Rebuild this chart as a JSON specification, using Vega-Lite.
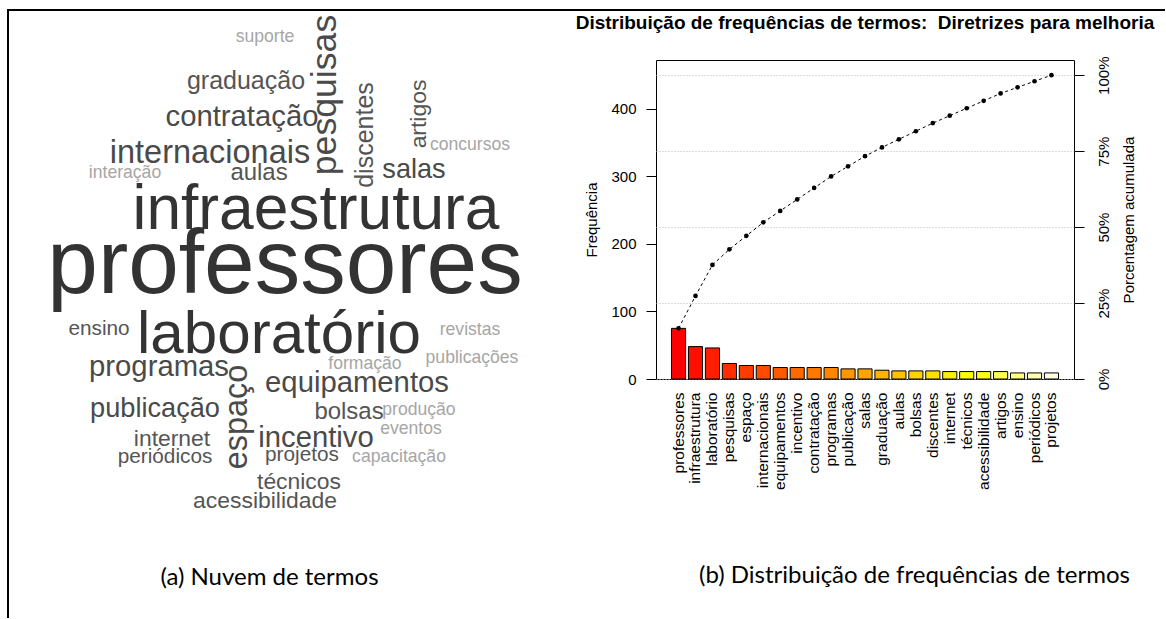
{
  "$schema": "https://vega.github.io/schema/vega-lite/v6.json",
  "padding": {"left": 6, "top": 8, "right": 0, "bottom": 0},
  "background": "white",
  "bounds": "flush",
  "spacing": 88,
  "config": {"view": {"stroke": null}, "font": "Liberation Sans"},
  "datasets": {
    "cloud": [
      {"word": "professores", "freq": 75, "cx": 284, "by": 292, "rot": 0},
      {"word": "infraestrutura", "freq": 48, "cx": 315, "by": 228, "rot": 0},
      {"word": "laboratório", "freq": 46, "cx": 278, "by": 352, "rot": 0},
      {"word": "pesquisas", "freq": 23, "cx": 335, "by": 94, "rot": 270},
      {"word": "espaço", "freq": 20, "cx": 246, "by": 416, "rot": 270},
      {"word": "internacionais", "freq": 20, "cx": 209, "by": 162, "rot": 0},
      {"word": "equipamentos", "freq": 17, "cx": 356, "by": 391, "rot": 0},
      {"word": "incentivo", "freq": 17, "cx": 315, "by": 446, "rot": 0},
      {"word": "contratação", "freq": 17, "cx": 241, "by": 125, "rot": 0},
      {"word": "programas", "freq": 17, "cx": 158, "by": 375, "rot": 0},
      {"word": "publicação", "freq": 15, "cx": 154, "by": 416, "rot": 0},
      {"word": "salas", "freq": 15, "cx": 413, "by": 177, "rot": 0},
      {"word": "graduação", "freq": 13, "cx": 245, "by": 88, "rot": 0},
      {"word": "aulas", "freq": 12, "cx": 258, "by": 179, "rot": 0},
      {"word": "bolsas", "freq": 12, "cx": 348, "by": 418, "rot": 0},
      {"word": "discentes", "freq": 13, "cx": 372, "by": 134, "rot": 270},
      {"word": "internet", "freq": 11, "cx": 171, "by": 445, "rot": 0},
      {"word": "técnicos", "freq": 11, "cx": 298, "by": 488, "rot": 0},
      {"word": "acessibilidade", "freq": 11, "cx": 264, "by": 507, "rot": 0},
      {"word": "artigos", "freq": 11, "cx": 425, "by": 113, "rot": 270},
      {"word": "ensino", "freq": 9, "cx": 98, "by": 334, "rot": 0},
      {"word": "periódicos", "freq": 9, "cx": 164, "by": 462, "rot": 0},
      {"word": "projetos", "freq": 9, "cx": 301, "by": 460, "rot": 0},
      {"word": "suporte", "freq": 6, "cx": 264, "by": 41, "rot": 0},
      {"word": "concursos", "freq": 6, "cx": 469, "by": 149, "rot": 0},
      {"word": "interação", "freq": 6, "cx": 124, "by": 177, "rot": 0},
      {"word": "revistas", "freq": 6, "cx": 469, "by": 334, "rot": 0},
      {"word": "formação", "freq": 6, "cx": 364, "by": 368, "rot": 0},
      {"word": "publicações", "freq": 6, "cx": 471, "by": 362, "rot": 0},
      {"word": "produção", "freq": 6, "cx": 418, "by": 414, "rot": 0},
      {"word": "eventos", "freq": 6, "cx": 410, "by": 433, "rot": 0},
      {"word": "capacitação", "freq": 6, "cx": 398, "by": 461, "rot": 0}
    ],
    "pareto": [
      {"term": "professores", "freq": 75, "cum": 75},
      {"term": "infraestrutura", "freq": 48, "cum": 123},
      {"term": "laboratório", "freq": 46, "cum": 169},
      {"term": "pesquisas", "freq": 23, "cum": 192},
      {"term": "espaço", "freq": 20, "cum": 212},
      {"term": "internacionais", "freq": 20, "cum": 232},
      {"term": "equipamentos", "freq": 17, "cum": 249},
      {"term": "incentivo", "freq": 17, "cum": 266},
      {"term": "contratação", "freq": 17, "cum": 283},
      {"term": "programas", "freq": 17, "cum": 300},
      {"term": "publicação", "freq": 15, "cum": 315},
      {"term": "salas", "freq": 15, "cum": 330},
      {"term": "graduação", "freq": 13, "cum": 343},
      {"term": "aulas", "freq": 12, "cum": 355},
      {"term": "bolsas", "freq": 12, "cum": 367},
      {"term": "discentes", "freq": 12, "cum": 379},
      {"term": "internet", "freq": 11, "cum": 390},
      {"term": "técnicos", "freq": 11, "cum": 401},
      {"term": "acessibilidade", "freq": 11, "cum": 412},
      {"term": "artigos", "freq": 11, "cum": 423},
      {"term": "ensino", "freq": 9, "cum": 432},
      {"term": "periódicos", "freq": 9, "cum": 441},
      {"term": "projetos", "freq": 9, "cum": 450}
    ]
  },
  "hconcat": [
    {
      "width": 560,
      "height": 461,
      "view": {"stroke": null},
      "layer": [
        {
          "data": {"values": [{"frame": "left"}]},
          "mark": {"type": "rule", "color": "black", "strokeWidth": 2},
          "encoding": {
            "x": {"datum": 7, "type": "quantitative", "scale": {"domain": [7, 567], "nice": false, "zero": false}, "axis": {"labels": false, "ticks": false, "domain": false, "grid": false, "title": "(a) Nuvem de termos", "titleFont": "Lato", "titleFontSize": 24, "titleFontWeight": "normal", "titleColor": "black", "titlePadding": 44, "titleX": 261, "titleAlign": "center"}},
            "y": {"datum": 8, "type": "quantitative", "scale": {"domain": [59, 520], "nice": false, "zero": false, "reverse": true}, "axis": null},
            "y2": {"datum": 617}
          }
        },
        {
          "data": {"values": [{"frame": "top"}]},
          "mark": {"type": "rule", "color": "black", "strokeWidth": 2},
          "encoding": {
            "x": {"datum": 6, "type": "quantitative"},
            "x2": {"datum": 1164},
            "y": {"datum": 9, "type": "quantitative"}
          }
        },
        {
          "data": {"name": "cloud"},
          "mark": {"type": "text", "font": "Liberation Sans", "align": "center", "baseline": "alphabetic"},
          "encoding": {
            "x": {"field": "cx", "type": "quantitative"},
            "y": {"field": "by", "type": "quantitative"},
            "text": {"field": "word"},
            "size": {"field": "freq", "type": "quantitative", "scale": {"domain": [0, 75], "range": [11.2, 91]}, "legend": null},
            "color": {"field": "freq", "type": "quantitative", "scale": {"type": "threshold", "domain": [8, 14, 40], "range": ["#a6a6a6", "#555555", "#4a4a4a", "#333333"]}, "legend": null},
            "angle": {"field": "rot", "type": "quantitative", "scale": null}
          }
        }
      ]
    },
    {
      "width": 418,
      "height": 319,
      "view": {"stroke": "black", "strokeWidth": 1},
      "data": {"name": "pareto"},
      "title": {"text": "Distribuição de frequências de termos:\u00a0 Diretrizes para melhoria", "font": "Liberation Sans", "fontSize": 19, "fontWeight": "bold", "color": "black", "anchor": "middle", "frame": "group", "offset": 23},
      "encoding": {
        "x": {
          "field": "term", "type": "nominal", "sort": null,
          "scale": {"paddingInner": 0.1667, "paddingOuter": 0.913},
          "axis": {"labelAngle": 270, "labelAlign": "right", "labelBaseline": "middle", "labelPadding": 13, "labelFont": "Liberation Sans", "labelFontSize": 15.5, "labelColor": "black", "ticks": false, "domain": false, "grid": false, "title": "(b) Distribuição de frequências de termos", "titleFont": "Lato", "titleFontSize": 24, "titleFontWeight": "normal", "titleColor": "black", "titlePadding": 74, "titleX": 258, "titleAlign": "center"}
        }
      },
      "layer": [
        {
          "mark": {"type": "bar", "stroke": "black", "strokeWidth": 1},
          "encoding": {
            "y": {"field": "freq", "type": "quantitative", "scale": {"domain": [0, 472.5], "nice": false}, "axis": {"orient": "left", "values": [0, 100, 200, 300, 400], "title": "Frequência", "titleFont": "Liberation Sans", "titleFontSize": 15, "titleFontWeight": "normal", "titleColor": "black", "titlePadding": 11, "labelFont": "Liberation Sans", "labelFontSize": 15, "labelColor": "black", "labelPadding": 10, "tickSize": 10, "tickColor": "black", "domain": false, "grid": false}},
            "color": {"field": "term", "type": "nominal", "sort": null, "legend": null, "scale": {"domain": ["professores", "infraestrutura", "laboratório", "pesquisas", "espaço", "internacionais", "equipamentos", "incentivo", "contratação", "programas", "publicação", "salas", "graduação", "aulas", "bolsas", "discentes", "internet", "técnicos", "acessibilidade", "artigos", "ensino", "periódicos", "projetos"], "range": ["#FF0000", "#FF0F00", "#FF1E00", "#FF2D00", "#FF3C00", "#FF4B00", "#FF5A00", "#FF6900", "#FF7800", "#FF8700", "#FF9600", "#FFA500", "#FFB400", "#FFC300", "#FFD200", "#FFE100", "#FFF000", "#FFFF00", "#FFFF1A", "#FFFF4D", "#FFFF80", "#FFFFB3", "#FFFFE6"]}}
          }
        },
        {
          "mark": {"type": "line", "color": "black", "strokeWidth": 1, "strokeDash": [3, 3]},
          "encoding": {
            "y": {"field": "cum", "type": "quantitative", "scale": {"domain": [0, 472.5], "nice": false}, "axis": {"orient": "right", "values": [0, 112.5, 225, 337.5, 450], "labelExpr": "format(datum.value / 450, '.0%')", "title": "Porcentagem acumulada", "titleFont": "Liberation Sans", "titleFontSize": 15, "titleFontWeight": "normal", "titleColor": "black", "titleAngle": 270, "titleBaseline": "top", "titlePadding": 10, "labelFont": "Liberation Sans", "labelFontSize": 15, "labelColor": "black", "labelAngle": 270, "labelAlign": "center", "labelBaseline": "top", "labelPadding": 12, "tickSize": 10, "tickColor": "black", "domain": false, "grid": true, "gridColor": "#bbbbbb", "gridDash": [1, 2]}}
          }
        },
        {
          "mark": {"type": "circle", "color": "black", "size": 22, "opacity": 1},
          "encoding": {
            "y": {"field": "cum", "type": "quantitative", "scale": {"domain": [0, 472.5], "nice": false}, "axis": null}
          }
        }
      ],
      "resolve": {"scale": {"y": "independent"}}
    }
  ]
}
